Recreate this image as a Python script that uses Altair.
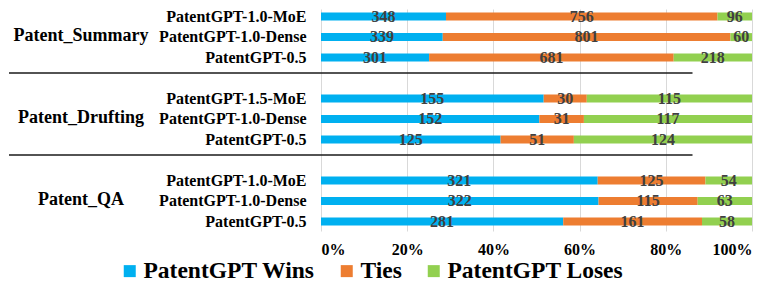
import altair as alt
import pandas as pd

groups = ["Patent_Summary", "Patent_Drufting", "Patent_QA"]
models = [
    ["PatentGPT-1.0-MoE", "PatentGPT-1.0-Dense", "PatentGPT-0.5"],
    ["PatentGPT-1.5-MoE", "PatentGPT-1.0-Dense", "PatentGPT-0.5"],
    ["PatentGPT-1.0-MoE", "PatentGPT-1.0-Dense", "PatentGPT-0.5"],
]
outcomes = ["PatentGPT Wins", "Ties", "PatentGPT Loses"]
colors = ["#00B0F0", "#ED7D31", "#92D050"]

wins = [348, 339, 301, 155, 152, 125, 321, 322, 281]
ties = [756, 801, 681, 30, 31, 51, 125, 115, 161]
loses = [96, 60, 218, 115, 117, 124, 54, 63, 58]

# slot order (top to bottom) including blank gap slots
slots = []
rows = []
i = 0
for gi, g in enumerate(groups):
    for m in models[gi]:
        key = f"{g}|{m}"
        slots.append(key)
        for oi, (o, vals) in enumerate(zip(outcomes, [wins, ties, loses])):
            rows.append({"slot": key, "group": g, "model": m, "outcome": o,
                         "order": oi, "value": vals[i]})
        i += 1
    if gi < len(groups) - 1:
        slots.append(f"gap{gi + 1}")

df = pd.DataFrame(rows)
group_df = pd.DataFrame({"group": groups,
                         "slot": [f"{g}|{models[k][1]}" for k, g in enumerate(groups)]})
sep_df = pd.DataFrame({"slot": ["gap1", "gap2"]})

FONT = "Liberation Serif"

yscale = alt.Scale(domain=slots, paddingInner=0.61, paddingOuter=0.22, align=0.4)
xscale = alt.Scale(domain=[0, 1], nice=False)

base = alt.Chart(df).transform_joinaggregate(
    total="sum(value)", groupby=["slot"]
).transform_window(
    cum="sum(value)", sort=[alt.SortField("order")], groupby=["slot"], frame=[None, 0]
).transform_calculate(
    end="datum.cum / datum.total",
    start="(datum.cum - datum.value) / datum.total",
    mid="(2 * datum.cum - datum.value) / (2 * datum.total)",
)

bars = base.mark_bar().encode(
    x=alt.X("start:Q", scale=xscale,
            axis=alt.Axis(values=[0, 0.2, 0.4, 0.6, 0.8, 1], format=".0%", title=None,
                          grid=True, gridColor="#D9D9D9", domain=False, ticks=False,
                          labelFont=FONT, labelFontWeight="bold", labelFontSize=16,
                          labelColor="#000000", labelPadding=10)),
    x2="end:Q",
    y=alt.Y("slot:N", scale=yscale, sort=slots,
            axis=alt.Axis(title=None, domain=False, ticks=False, grid=False,
                          labelExpr="indexof(datum.value, '|') >= 0 ? split(datum.value, '|')[1] : ''",
                          labelFont=FONT, labelFontWeight="bold", labelFontSize=16,
                          labelColor="#000000", labelPadding=15)),
    color=alt.Color("outcome:N",
                    scale=alt.Scale(domain=outcomes, range=colors),
                    legend=alt.Legend(title=None, orient="none", legendX=-203, legendY=250,
                                      direction="horizontal", columns=3,
                                      symbolType="square", symbolSize=144,
                                      symbolStrokeWidth=0, labelOffset=2,
                                      columnPadding=20,
                                      labelFont=FONT, labelFontWeight="bold",
                                      labelFontSize=23.5, labelColor="#000000",
                                      labelLimit=400)),
    order=alt.Order("order:Q"),
)

labels = base.mark_text(font=FONT, fontWeight="bold", fontSize=16, color="#404040",
                        baseline="middle").encode(
    x=alt.X("mid:Q", scale=xscale),
    y=alt.Y("slot:N", scale=yscale, sort=slots),
    text=alt.Text("value:Q"),
)

group_labels = alt.Chart(group_df).mark_text(
    font=FONT, fontWeight="bold", fontSize=18, color="#000000",
    align="center", baseline="middle", dy=-1
).encode(
    x=alt.value(-240),
    y=alt.Y("slot:N", scale=yscale, sort=slots),
    text="group:N",
)

separators = alt.Chart(sep_df).mark_rule(color="#1A1A1A", strokeWidth=1.5, yOffset=-5).encode(
    x=alt.value(-312),
    x2=alt.value(371.5),
    y=alt.Y("slot:N", scale=yscale, sort=slots),
)

chart = alt.layer(bars, labels, group_labels, separators).properties(
    width=431, height=222,
    padding={"left": 0, "top": 0, "right": 5, "bottom": 0},
).configure_view(stroke=None)

chart.save("out.html", embed_options={"renderer": "svg", "actions": False})
